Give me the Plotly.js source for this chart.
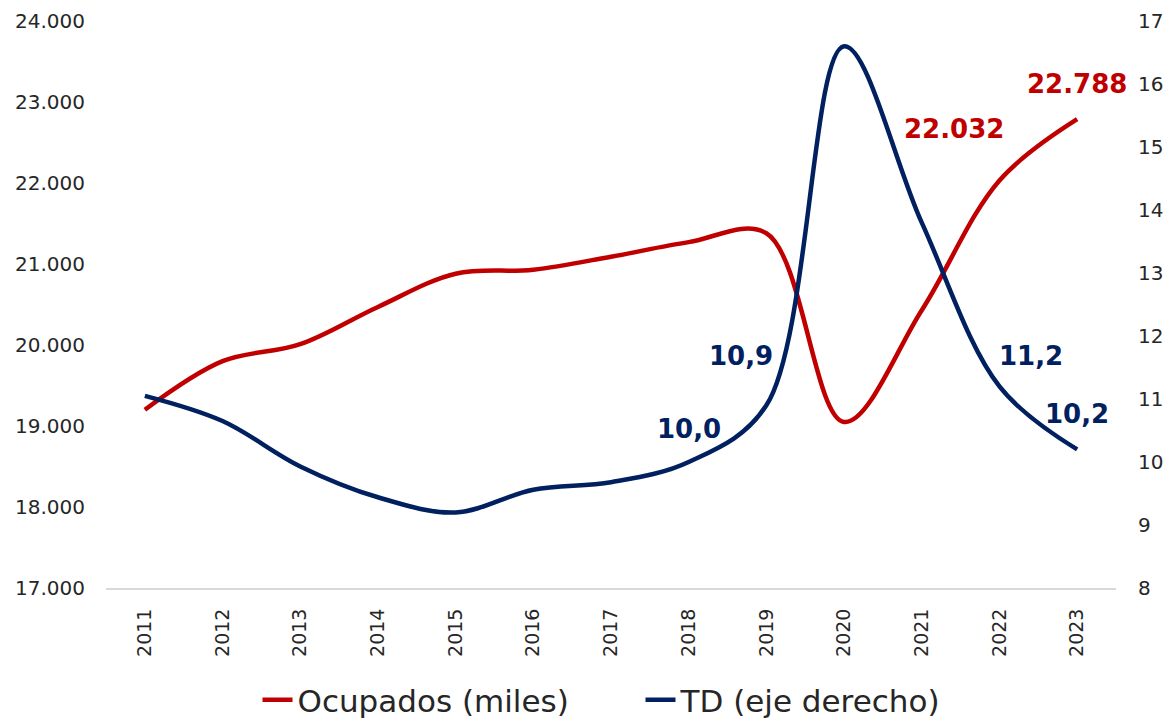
<!DOCTYPE html>
<html>
<head>
<meta charset="utf-8">
<script src="https://cdn.plot.ly/plotly-3.0.1.min.js"></script>
<style>html,body{margin:0;padding:0;background:#fff;}#chart{width:1168px;height:718px;}</style>
</head>
<body>
<div id="chart"></div>
<script>
const years = ["2011","2012","2013","2014","2015","2016","2017","2018","2019","2020","2021","2022","2023"];
const ocupados = [19200, 19800, 20010, 20470, 20880, 20930, 21090, 21270, 21380, 19050, 20430, 22032, 22788];
const td = [11.05, 10.65, 9.93, 9.44, 9.2, 9.56, 9.68, 10.0, 10.9, 16.6, 13.8, 11.2, 10.2];
const ocupLabelYears = ["2022", "2023"];
const tdLabelYears = ["2018", "2019", "2022", "2023"];
const yLeftTicks = [17000, 18000, 19000, 20000, 21000, 22000, 23000, 24000];
const yRightTicks = [8, 9, 10, 11, 12, 13, 14, 15, 16, 17];

const RED = "#C00000", BLUE = "#002060";
const FONT = "DejaVu Sans, sans-serif";

function fmtThousands(v){ return Math.round(v).toString().replace(/\B(?=(\d{3})+(?!\d))/g, "."); }
function fmtDec(v){ return v.toFixed(1).replace(".", ","); }

const traces = [
  {x: years, y: ocupados, name: "Ocupados (miles)", type: "scatter", mode: "lines",
   line: {color: RED, width: 4.5, shape: "spline", smoothing: 1}, yaxis: "y"},
  {x: years, y: td, name: "TD (eje derecho)", type: "scatter", mode: "lines",
   line: {color: BLUE, width: 4.5, shape: "spline", smoothing: 1}, yaxis: "y2"}
];

const ocupShift = {"2022": [-45, 51], "2023": [0, 35]};
const tdShift = {"2018": [0, 33], "2019": [-25, 49], "2022": [32, 30], "2023": [0, 35]};

const annotations = [];
ocupLabelYears.forEach(yr => {
  const i = years.indexOf(yr);
  annotations.push({x: i, y: ocupados[i], xref: "x", yref: "y", text: "<b>" + fmtThousands(ocupados[i]) + "</b>",
    showarrow: false, xshift: ocupShift[yr][0], yshift: ocupShift[yr][1], font: {family: FONT, size: 26, color: RED}});
});
tdLabelYears.forEach(yr => {
  const i = years.indexOf(yr);
  annotations.push({x: i, y: td[i], xref: "x", yref: "y2", text: "<b>" + fmtDec(td[i]) + "</b>",
    showarrow: false, xshift: tdShift[yr][0], yshift: tdShift[yr][1], font: {family: FONT, size: 26, color: BLUE}});
});

const layout = {
  width: 1168, height: 718,
  margin: {l: 106, r: 52, t: 21, b: 130, autoexpand: false},
  paper_bgcolor: "#fff", plot_bgcolor: "#fff",
  font: {family: FONT, color: "#262626", size: 20},
  showlegend: true,
  legend: {orientation: "h", x: 0.15, xanchor: "left", y: -0.1975, yanchor: "middle",
    font: {family: FONT, size: 31, color: "#262626"}, entrywidth: 338, itemwidth: 30, tracegroupgap: 0},
  xaxis: {type: "category", range: [-0.5, 12.5], tickangle: -90, showgrid: false,
    showline: true, linecolor: "#d9d9d9", linewidth: 2, ticks: "", zeroline: false,
    tickfont: {family: FONT, size: 19, color: "#262626"}, ticklabelstandoff: 11},
  yaxis: {range: [17000, 24000], tickvals: yLeftTicks, ticktext: yLeftTicks.map(fmtThousands),
    showgrid: false, showline: false, zeroline: false, ticks: "",
    tickfont: {family: FONT, size: 20, color: "#262626"}, ticklabelstandoff: 20},
  yaxis2: {range: [8, 17], tickvals: yRightTicks, overlaying: "y", side: "right",
    showgrid: false, showline: false, zeroline: false, ticks: "",
    tickfont: {family: FONT, size: 20, color: "#262626"}, ticklabelstandoff: 21},
  annotations: annotations
};

Plotly.newPlot("chart", traces, layout, {displayModeBar: false, staticPlot: true});
</script>
</body>
</html>
